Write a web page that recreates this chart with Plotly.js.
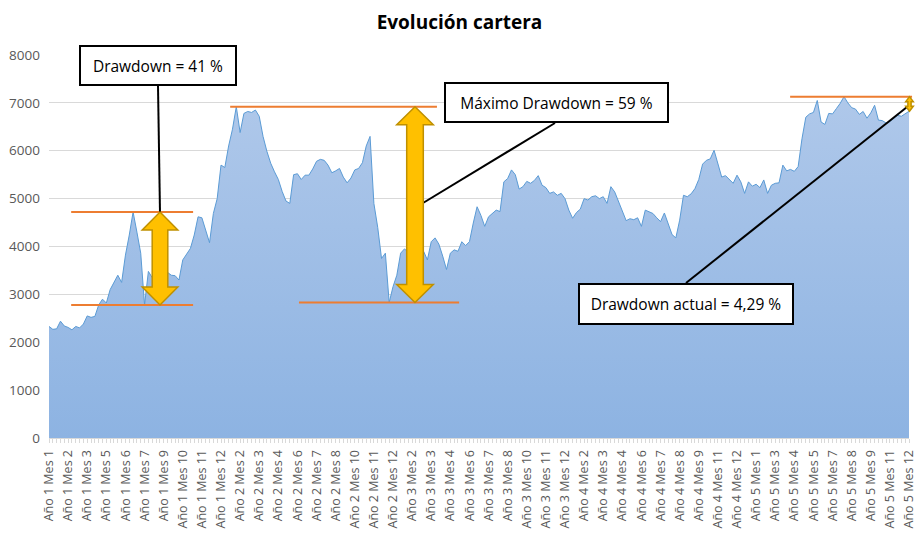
<!DOCTYPE html>
<html><head><meta charset="utf-8">
<script src="https://cdn.plot.ly/plotly-3.0.1.min.js"></script>
<style>html,body{margin:0;padding:0;background:#fff}#chart{width:919px;height:534px}</style>
</head><body><div id="chart"></div>
<script>
const etiquetas = [
  "Año 1 Mes 1","Año 1 Mes 2","Año 1 Mes 3","Año 1 Mes 5","Año 1 Mes 6","Año 1 Mes 7","Año 1 Mes 9","Año 1 Mes 10","Año 1 Mes 11","Año 1 Mes 12",
  "Año 2 Mes 2","Año 2 Mes 3","Año 2 Mes 4","Año 2 Mes 6","Año 2 Mes 7","Año 2 Mes 8","Año 2 Mes 10","Año 2 Mes 11","Año 2 Mes 12",
  "Año 3 Mes 2","Año 3 Mes 3","Año 3 Mes 4","Año 3 Mes 6","Año 3 Mes 7","Año 3 Mes 8","Año 3 Mes 10","Año 3 Mes 11","Año 3 Mes 12",
  "Año 4 Mes 2","Año 4 Mes 3","Año 4 Mes 4","Año 4 Mes 6","Año 4 Mes 7","Año 4 Mes 8","Año 4 Mes 9","Año 4 Mes 11","Año 4 Mes 12",
  "Año 5 Mes 1","Año 5 Mes 3","Año 5 Mes 4","Año 5 Mes 5","Año 5 Mes 7","Año 5 Mes 8","Año 5 Mes 9","Año 5 Mes 11","Año 5 Mes 12"
];
const valores = [
  2330,2270,2280,2440,2340,2310,2260,2330,2300,2380,
  2550,2520,2540,2780,2900,2820,3100,3250,3400,3250,
  3820,4240,4720,4300,3860,2780,3480,3350,3300,3420,
  3380,3460,3400,3390,3300,3720,3850,3960,4240,4620,
  4600,4340,4080,4690,5000,5700,5650,6100,6450,6920,
  6380,6780,6820,6800,6850,6720,6300,5990,5740,5560,
  5400,5150,4950,4900,5500,5520,5400,5490,5490,5620,
  5780,5820,5800,5700,5540,5580,5630,5450,5330,5430,
  5600,5630,5750,6100,6300,4900,4400,3750,3860,2830,
  3160,3400,3860,3950,3880,3950,4000,3920,3900,3720,
  4100,4180,4050,3800,3520,3860,3930,3900,4100,4020,
  4100,4490,4830,4650,4420,4620,4690,4760,4730,5350,
  5420,5600,5500,5200,5250,5360,5320,5380,5480,5280,
  5230,5110,5140,5070,5110,5000,4760,4590,4710,4780,
  5000,4970,5040,5060,5000,5040,4900,5250,5140,4950,
  4750,4540,4580,4560,4600,4420,4760,4730,4690,4600,
  4520,4700,4480,4250,4180,4550,5070,5040,5100,5210,
  5400,5720,5800,5830,6010,5700,5450,5480,5400,5320,
  5490,5350,5110,5350,5260,5300,5230,5390,5110,5280,
  5320,5330,5700,5580,5610,5570,5670,6250,6700,6770,
  6800,7050,6600,6550,6780,6770,6880,6990,7130,7000,
  6900,6870,6760,6820,6680,6790,6950,6640,6630,6580,
  6610,6680,6740,6720,6780,6824
];

const n = valores.length;
const xs = valores.map((_, i) => i);
const paso = (n - 1) / (etiquetas.length - 1);
const tickvals = etiquetas.map((_, k) => k * paso);

// plot-area geometry (pixels)
const L = 49, R = 10, T = 55, B = 96, W = 919, H = 534;
const PW = W - L - R, PH = H - T - B;
const px2paperX = p => (p - L) / PW;
const px2paperY = p => (H - B - p) / PH;
const idx2paper = i => i / (n - 1);
const pxPerVal = PH / 8000;

// drawdown levels from the data
const pico1 = Math.max(...valores.slice(0, 26));
const valle1 = Math.min(...valores.slice(22, 40));
const pico2 = Math.max(...valores.slice(0, 90));
const valle2 = Math.min(...valores.slice(49, 120));
const picoMax = Math.max(...valores);
const ultimo = valores[n - 1];
const dd1 = Math.round((1 - valle1 / pico1) * 100);
const dd2 = Math.round((1 - valle2 / pico2) * 100);
const ddAct = ((1 - ultimo / picoMax) * 100).toFixed(2).replace('.', ',');

const naranja = '#ed7d31';
function hline(i0, i1, v) {
  return {type: 'line', xref: 'paper', yref: 'y', x0: idx2paper(i0), x1: idx2paper(i1), y0: v, y1: v,
          line: {color: naranja, width: 2}};
}
function flecha(cxPx, vTop, vBot, hb, hh, hl) {
  const cx = px2paperX(cxPx);
  const b = hb / PW, h = hh / PW, l = hl / pxPerVal;
  const pts = [
    [cx, vTop], [cx + h, vTop - l], [cx + b, vTop - l], [cx + b, vBot + l], [cx + h, vBot + l],
    [cx, vBot], [cx - h, vBot + l], [cx - b, vBot + l], [cx - b, vTop - l], [cx - h, vTop - l]
  ];
  return {type: 'path', xref: 'paper', yref: 'y',
          path: 'M' + pts.map(p => p[0] + ',' + p[1]).join(' L') + ' Z',
          fillcolor: '#ffc000', line: {color: '#bf9000', width: 1.5}};
}
function conector(x0, y0, x1, y1) {
  return {type: 'line', xref: 'paper', yref: 'paper', x0: px2paperX(x0), y0: px2paperY(y0),
          x1: px2paperX(x1), y1: px2paperY(y1), line: {color: '#000', width: 2}};
}
function caja(x0, y0, x1, y1, texto) {
  return {xref: 'paper', yref: 'paper', x: px2paperX((x0 + x1) / 2), y: px2paperY((y0 + y1) / 2),
          xanchor: 'center', yanchor: 'middle', text: texto, showarrow: false,
          bgcolor: '#ffffff', bordercolor: '#000000', borderwidth: 2, borderpad: 0,
          width: x1 - x0 - 4, height: y1 - y0 - 4,
          font: {family: 'Open Sans', size: 15.5, color: '#000'}};
}

const shapes = [
  hline(5.8, 37.7, pico1),
  hline(5.8, 37.7, valle1),
  hline(47.4, 101.5, pico2),
  hline(65.4, 107.3, valle2),
  hline(193.9, 225.8, picoMax),
  conector(158, 86, 160, 213),
  conector(555, 123, 423, 203),
  conector(686, 283, 907, 107),
  flecha(160, pico1, valle1, 7.8, 17.8, 18),
  flecha(415, pico2, valle2, 8.3, 18.3, 18),
  flecha(909.5, picoMax, ultimo, 1.6, 3.8, 5)
];

const annotations = [
  caja(79, 45, 237, 86, 'Drawdown = ' + dd1 + ' %'),
  caja(444, 82, 669, 123, 'Máximo Drawdown = ' + dd2 + ' %'),
  caja(578, 283, 794, 325, 'Drawdown actual = ' + ddAct + ' %')
];

const trace = {
  x: xs, y: valores, type: 'scatter', mode: 'lines', fill: 'tozeroy',
  line: {color: '#5b9bd5', width: 1},
  fillgradient: {type: 'vertical', start: 0, stop: 7130,
                 colorscale: [[0, '#8db3e2'], [1, '#afc8ea']]},
  hoverinfo: 'skip'
};

const layout = {
  width: W, height: H,
  margin: {l: L, r: R, t: T, b: B},
  paper_bgcolor: '#fff', plot_bgcolor: '#fff',
  showlegend: false,
  title: {text: '<b>Evolución cartera</b>', font: {family: 'Open Sans', size: 19, color: '#000'},
          x: 0.5, xref: 'container', y: 1 - 22 / H, yref: 'container', yanchor: 'middle'},
  xaxis: {range: [0, n - 1], tickmode: 'array', tickvals: tickvals, ticktext: etiquetas,
          tickangle: -90, tickfont: {family: 'Open Sans', size: 12.5, color: '#595959'},
          showgrid: false, zeroline: false, showline: true, linecolor: '#d9d9d9', linewidth: 1,
          ticks: '', ticklabelstandoff: 6,
          minor: {tickmode: 'linear', tick0: 0, dtick: 1, ticks: 'outside', ticklen: 4,
                  tickcolor: '#d9d9d9', tickwidth: 1, showgrid: false}},
  yaxis: {range: [0, 8000], dtick: 1000, tick0: 0, gridcolor: '#d9d9d9', gridwidth: 1,
          zeroline: false, showline: false, ticks: '',
          tickfont: {family: 'Open Sans', size: 13.5, color: '#595959'}, ticklabelstandoff: 8},
  shapes: shapes,
  annotations: annotations
};

Plotly.newPlot('chart', [trace], layout, {displayModeBar: false, staticPlot: true});
</script></body></html>
